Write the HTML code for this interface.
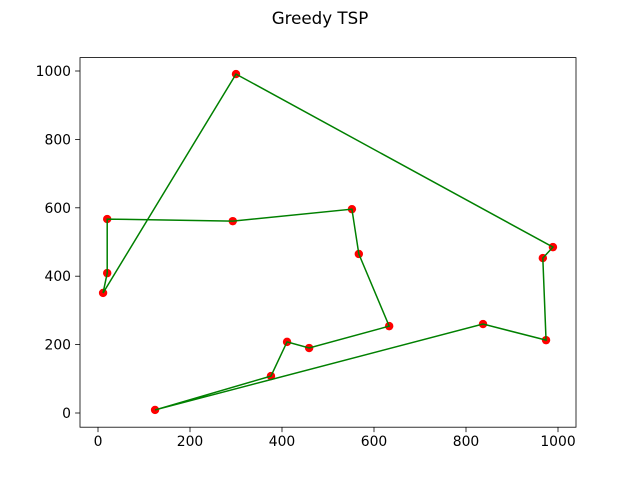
<!DOCTYPE html>
<html><head><meta charset="utf-8"><style>
body{margin:0;background:#fff;font-family:"Liberation Sans","DejaVu Sans",sans-serif}
svg text{font-family:"DejaVu Sans","Liberation Sans",sans-serif;font-size:13.9px;fill:#000}
</style></head><body>
<svg id="chart" width="640" height="480">
<rect width="640" height="480" fill="#fff"/>
<text x="320" y="24" text-anchor="middle" style="font-size:16.7px">Greedy TSP</text>
<g id="axes"></g>
<g id="marks"></g>
<rect x="80" y="57.6" width="496" height="369.6" fill="none" stroke="#000" stroke-width="0.8"/>
</svg>
<script>
const xs=[124,376,411,459,633,567,552,293,20,20,11,300,989,967,974,837];
const ys=[9,108,208,190,254,465,596,561,567,409,351,991,485,453,213,260];
const xTicks=[0,200,400,600,800,1000];
const yTicks=[0,200,400,600,800,1000];
const NS='http://www.w3.org/2000/svg';
const sx=v=>98+v*0.46, sy=v=>413-v*0.342;
const axes=document.getElementById('axes'), marks=document.getElementById('marks');
function mk(t,a,p){const e=document.createElementNS(NS,t);for(const k in a)e.setAttribute(k,a[k]);p.appendChild(e);return e;}
xTicks.forEach(t=>{
 const l=mk('line',{x1:sx(t),x2:sx(t),y1:427.2,y2:432.1,stroke:'#000','stroke-width':0.8},axes);
 
 
 const tx=mk('text',{x:sx(t),y:446,'text-anchor':'middle'},axes);tx.textContent=t;
 
 
});
yTicks.forEach(t=>{
 const l=mk('line',{x1:75.1,x2:80,y1:sy(t),y2:sy(t),stroke:'#000','stroke-width':0.8},axes);
 
 
 const tx=mk('text',{x:71,y:sy(t)+5,'text-anchor':'end'},axes);tx.textContent=t;
 
 
});
let pts=xs.map((x,i)=>sx(x)+','+sy(ys[i]));pts.push(pts[0]);
const pl=mk('polyline',{points:pts.join(' '),fill:'none',stroke:'#008000','stroke-width':1.5},marks);


xs.forEach((x,i)=>{
 const c=mk('circle',{cx:sx(x),cy:sy(ys[i]),r:4.2,fill:'#ff0000'},marks);
 
 
});
marks.appendChild(pl);
</script>
</body></html>
